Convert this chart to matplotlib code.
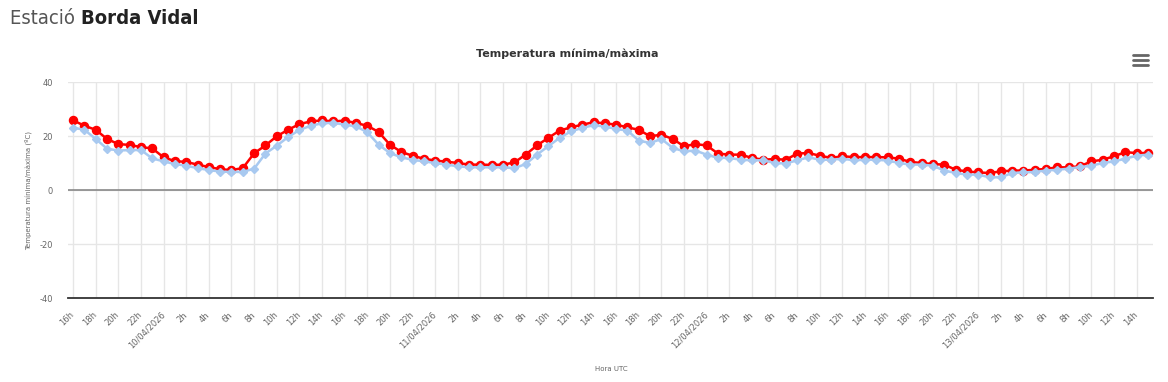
import numpy as np
from matplotlib import pyplot as plt
from matplotlib.lines import Line2D

# Hourly max / min temperature, from 16h on 09/04/2026 to 15h on 13/04/2026
start_hour = 16
dates = ['10/04/2026', '11/04/2026', '12/04/2026', '13/04/2026']

t_max = [25.8, 23.8, 22.3, 18.9, 17.0, 16.7, 15.9, 15.4, 12.1, 10.7, 10.4, 9.4,
         8.5, 7.7, 7.4, 8.1, 13.6, 16.5, 19.9, 22.3, 24.4, 25.4, 25.8, 25.4,
         25.7, 24.8, 23.8, 21.5, 16.8, 14.1, 12.7, 11.6, 10.9, 10.5, 10.0, 9.4,
         9.4, 9.3, 9.4, 10.2, 13.1, 16.5, 19.3, 22.0, 23.2, 24.2, 25.1, 24.7,
         24.2, 23.2, 22.3, 19.9, 20.5, 18.9, 16.2, 17.0, 16.5, 13.5, 13.1, 13.1,
         11.9, 11.2, 11.5, 11.2, 13.5, 13.7, 12.7, 11.9, 12.5, 12.2, 12.2, 12.2,
         12.1, 11.6, 10.4, 10.0, 9.6, 9.4, 7.5, 6.9, 6.5, 6.3, 6.9, 7.2,
         7.2, 7.5, 7.8, 8.4, 8.4, 8.8, 10.6, 11.2, 12.5, 14.0, 13.7, 13.7]

t_min = [23.1, 22.3, 18.9, 15.3, 14.6, 14.8, 14.8, 11.7, 10.6, 9.6, 9.0, 8.1,
         7.4, 6.8, 6.7, 6.7, 7.9, 13.5, 16.4, 19.6, 22.2, 23.8, 24.7, 24.9,
         24.2, 23.6, 21.4, 16.8, 13.7, 12.1, 11.2, 10.6, 10.0, 9.4, 8.8, 8.4,
         8.4, 8.4, 8.4, 8.1, 9.6, 13.1, 16.2, 19.3, 21.7, 23.0, 24.0, 23.5,
         22.6, 22.0, 18.3, 17.4, 18.9, 15.6, 14.3, 14.6, 13.1, 11.9, 11.9, 11.2,
         11.0, 11.0, 10.0, 9.8, 11.0, 12.1, 11.2, 11.2, 11.6, 11.0, 11.2, 11.2,
         10.9, 10.0, 9.4, 9.4, 9.0, 7.2, 6.3, 5.7, 5.7, 4.7, 4.7, 6.3,
         6.5, 6.7, 7.2, 7.5, 7.9, 8.5, 9.0, 10.0, 10.6, 11.6, 12.7, 13.1]

y_ticks = [-40, -20, 0, 20, 40]

x = np.arange(len(t_max))

# tick labels every 2 hours, date at midnight
tick_pos = x[::2]
tick_labels = []
day = 0
for i in tick_pos:
    h = (start_hour + i) % 24
    if h == 0:
        tick_labels.append(dates[day])
        day += 1
    else:
        tick_labels.append(f"{h}h")

fig = plt.figure(figsize=(11.68, 3.82), dpi=100)
ax = fig.add_axes([68 / 1168, 1 - 298 / 382, (1153 - 68) / 1168, (298 - 82) / 382])

ax.set_xlim(-0.45, len(x) - 0.55)
ax.set_ylim(-40, 40)

# grid
for t in tick_pos:
    ax.axvline(t, color='#e6e6e6', linewidth=1, zorder=0)
for t in y_ticks:
    ax.axhline(t, color='#e6e6e6', linewidth=1, zorder=0)
ax.axhline(0, color='#808080', linewidth=1.1, zorder=1)

for s in ['top', 'right', 'left']:
    ax.spines[s].set_visible(False)
ax.spines['bottom'].set_color('#333333')
ax.spines['bottom'].set_linewidth(1.3)

ax.plot(x, t_max, color='#ff0000', linewidth=1.8, marker='o', markersize=5.8, zorder=3)
ax.plot(x, t_min, color='#a8c9f0', linewidth=1.8, marker='D', markersize=4.3, zorder=4)

ax.set_yticks(y_ticks)
ax.set_yticklabels([str(t) for t in y_ticks])
ax.tick_params(axis='y', length=0, pad=11, labelsize=6, labelcolor='#666666')

ax.set_xticks(tick_pos)
ax.set_xticklabels(tick_labels, rotation=45, ha='right', va='center', rotation_mode='anchor')
ax.tick_params(axis='x', length=0, pad=11, labelsize=6, labelcolor='#666666')

fig.text(28 / 1168, 1 - 190 / 382, 'Temperatura mínima/màxima (ºC)', rotation=90, ha='center', va='center',
         fontsize=5, color='#666666')
fig.text(611 / 1168, 1 - 369 / 382, 'Hora UTC', ha='center', va='center', fontsize=5, color='#666666')

fig.text(567 / 1168, 1 - 54 / 382, 'Temperatura mínima/màxima', ha='center', va='center', fontsize=8,
         fontweight='bold', color='#333333')

# page header
hdr = {'family': 'DejaVu Sans', 'stretch': 'condensed', 'fontsize': 14.5}
t1 = fig.text(10 / 1168, 1 - 18 / 382, 'Estació ', ha='left', va='center', color='#555555',
              fontweight='light', **hdr)
fig.canvas.draw()
bb = t1.get_window_extent()
fig.text(bb.x1 / 1168, 1 - 18 / 382, 'Borda Vidal', ha='left', va='center', fontweight='bold',
         color='#222222', **hdr)

# menu icon
for yy in [55, 60, 65]:
    fig.add_artist(Line2D([1133 / 1168, 1148 / 1168], [1 - yy / 382, 1 - yy / 382], color='#666666',
                          linewidth=2, solid_capstyle='round'))

plt.savefig('out.png', dpi=100)
